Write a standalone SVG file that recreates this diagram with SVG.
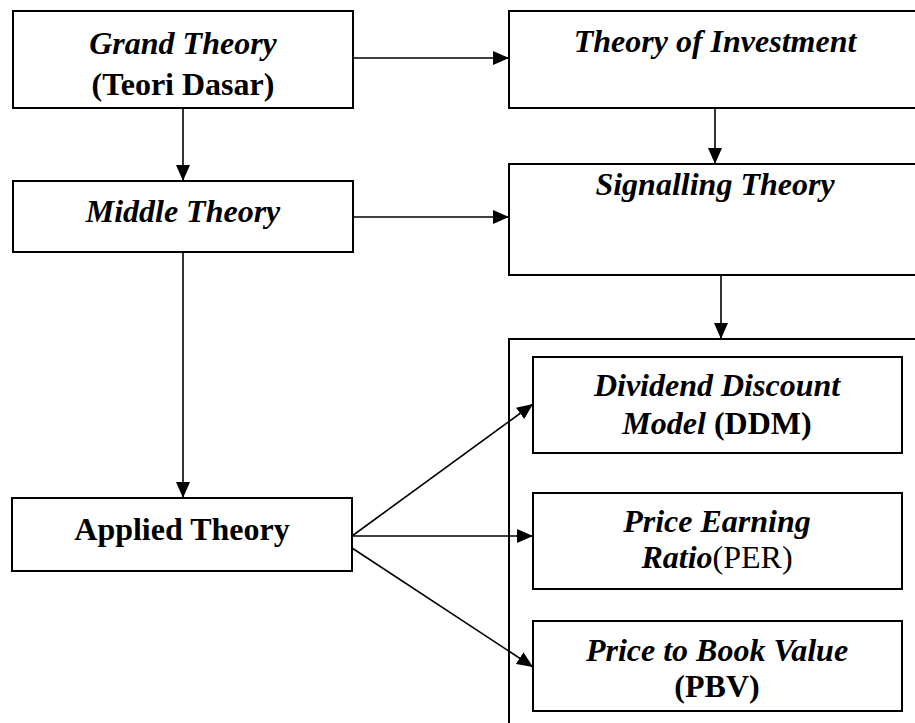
<svg xmlns="http://www.w3.org/2000/svg" width="915" height="723" viewBox="0 0 915 723">
  <style>
    .box { fill: #ffffff; stroke: #000000; stroke-width: 2; }
    .wire { fill: none; stroke: #000000; stroke-width: 1.6; }
  </style>
  <defs>
    <marker id="arrow" viewBox="0 0 16 14" refX="16" refY="7" markerWidth="16" markerHeight="14" markerUnits="userSpaceOnUse" orient="auto">
      <path d="M0,0 L16,7 L0,14 Z" fill="#000000"/>
    </marker>
  </defs>

  <rect x="0" y="0" width="915" height="723" fill="#ffffff"/>

  <g font-family="Liberation Serif, serif" font-size="32" fill="#000000" text-anchor="middle">

    <!-- outer frame holding the valuation models -->
    <g id="applied-models">
      <rect class="box" x="509" y="339" width="420" height="400"/>
    </g>

    <g id="grand-theory">
      <rect class="box" x="13" y="11" width="340" height="97"/>
      <text x="183" y="54" font-weight="bold" font-style="italic">Grand Theory</text>
      <text x="183" y="95" font-weight="bold">(Teori Dasar)</text>
    </g>

    <g id="middle-theory">
      <rect class="box" x="13" y="181" width="340" height="71"/>
      <text x="183" y="222" font-weight="bold" font-style="italic">Middle Theory</text>
    </g>

    <g id="applied-theory">
      <rect class="box" x="12" y="498" width="340" height="73"/>
      <text x="182" y="540" font-weight="bold">Applied Theory</text>
    </g>

    <g id="theory-of-investment">
      <rect class="box" x="509" y="11" width="420" height="97"/>
      <text x="715" y="52" font-weight="bold" font-style="italic">Theory of Investment</text>
    </g>

    <g id="signalling-theory">
      <rect class="box" x="509" y="164" width="420" height="111"/>
      <text x="715" y="195" font-weight="bold" font-style="italic">Signalling Theory</text>
    </g>

    <g id="ddm">
      <rect class="box" x="533" y="357" width="369" height="96"/>
      <text x="717" y="396" font-weight="bold" font-style="italic">Dividend Discount</text>
      <text x="717" y="434" font-weight="bold"><tspan font-style="italic">Model</tspan> (DDM)</text>
    </g>

    <g id="per">
      <rect class="box" x="533" y="493" width="369" height="96"/>
      <text x="717" y="532" font-weight="bold" font-style="italic">Price Earning</text>
      <text x="717" y="568"><tspan font-weight="bold" font-style="italic">Ratio</tspan>(PER)</text>
    </g>

    <g id="pbv">
      <rect class="box" x="533" y="621" width="369" height="90"/>
      <text x="717" y="661" font-weight="bold" font-style="italic">Price to Book Value</text>
      <text x="717" y="697" font-weight="bold">(PBV)</text>
    </g>
  </g>

  <g id="connectors">
    <line class="wire" x1="353" y1="58" x2="509" y2="58" marker-end="url(#arrow)"/>
    <line class="wire" x1="353" y1="217" x2="509" y2="217" marker-end="url(#arrow)"/>
    <line class="wire" x1="183" y1="108" x2="183" y2="181" marker-end="url(#arrow)"/>
    <line class="wire" x1="183" y1="252" x2="183" y2="498" marker-end="url(#arrow)"/>
    <line class="wire" x1="715" y1="108" x2="715" y2="164" marker-end="url(#arrow)"/>
    <line class="wire" x1="721" y1="275" x2="721" y2="339" marker-end="url(#arrow)"/>
    <line class="wire" x1="352" y1="536" x2="533" y2="404" marker-end="url(#arrow)"/>
    <line class="wire" x1="352" y1="536" x2="533" y2="536" marker-end="url(#arrow)"/>
    <line class="wire" x1="352" y1="548" x2="533" y2="667" marker-end="url(#arrow)"/>
  </g>
</svg>
